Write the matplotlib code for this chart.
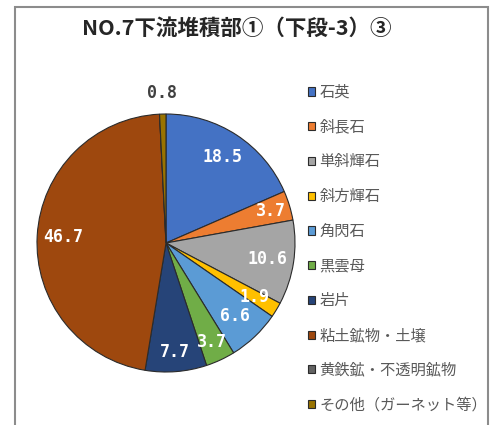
import matplotlib
matplotlib.use("Agg")
import matplotlib.pyplot as plt
import numpy as np
from matplotlib.patches import Rectangle

plt.rcParams['font.family'] = ['Noto Sans CJK JP', 'DejaVu Sans']

title = "NO.7下流堆積部①（下段-3）③"
minerals = ["石英", "斜長石", "単斜輝石", "斜方輝石", "角閃石", "黒雲母", "岩片",
            "粘土鉱物・土壌", "黄鉄鉱・不透明鉱物", "その他（ガーネット等）"]
values = [18.5, 3.7, 10.6, 1.9, 6.6, 3.7, 7.7, 46.7, 0.0, 0.8]
colors = ["#4472C4", "#ED7D31", "#A5A5A5", "#FFC000", "#5B9BD5", "#70AD47",
          "#264478", "#9E480E", "#636363", "#997300"]

fig = plt.figure(figsize=(4.97, 4.25), dpi=100)

# chart frame
fig.patches.append(Rectangle((15 / 497, -0.1), (488 - 15) / 497, 1.1 - 7 / 425,
                             transform=fig.transFigure, fill=False,
                             edgecolor="#8c8c8c", linewidth=1.5))

fig.text(237 / 497, 1 - 28 / 425, title, ha="center", va="center",
         fontsize=15.5, fontweight="bold", color="#262626")

# pie centred at (166, 243) px, radius ~129 px
cx, cy, r = 166, 243, 129
ax = fig.add_axes([(cx - r) / 497, 1 - (cy + r) / 425, 2 * r / 497, 2 * r / 425])
wedges, _ = ax.pie(values, colors=colors, startangle=90, counterclock=False,
                   wedgeprops=dict(edgecolor="#2b2b2b", linewidth=0.8))
ax.set_xlim(-1, 1)
ax.set_ylim(-1, 1)
ax.set_aspect("auto")

dists = [0.80, 0.85, 0.80, 0.80, 0.78, 0.85, 0.85, 0.80, 0.8, 1.16]
for w, v, d in zip(wedges, values, dists):
    if v <= 0:
        continue
    ang = np.deg2rad((w.theta1 + w.theta2) / 2)
    col = "white" if d < 1 else "#404040"
    ax.text(d * np.cos(ang), d * np.sin(ang), f"{v:.1f}", ha="center", va="center",
            fontsize=12, fontweight="bold", family="DejaVu Sans Mono",
            color=col, clip_on=False)

leg = fig.legend(wedges, minerals, loc="upper left", bbox_to_anchor=(308 / 497, 1 - 84 / 425),
                 frameon=False, fontsize=11, labelspacing=1.16, handlelength=0.45,
                 handleheight=0.45, handletextpad=0.3, borderaxespad=0,
                 borderpad=0)
for t in leg.get_texts():
    t.set_color("#595959")

fig.savefig("out.png", dpi=100, facecolor="white")
